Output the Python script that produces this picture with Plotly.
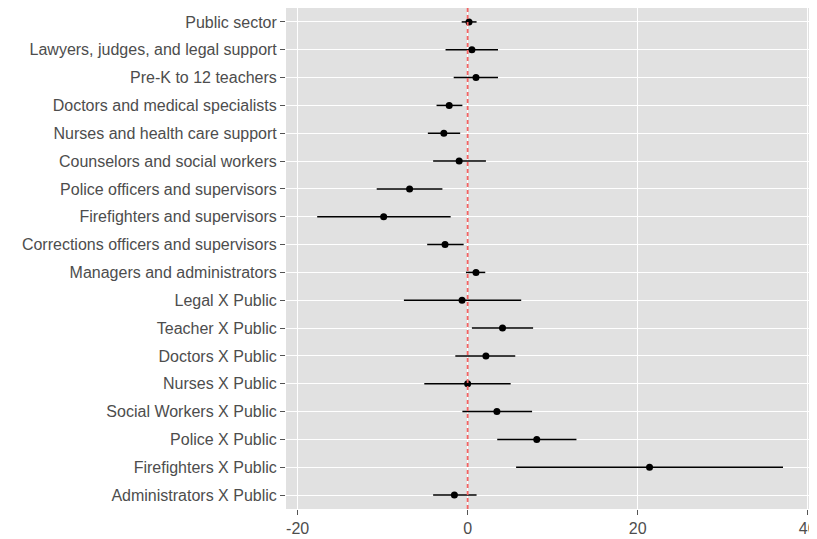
import plotly.graph_objects as go

categories = [
    "Public sector",
    "Lawyers, judges, and legal support",
    "Pre-K to 12 teachers",
    "Doctors and medical specialists",
    "Nurses and health care support",
    "Counselors and social workers",
    "Police officers and supervisors",
    "Firefighters and supervisors",
    "Corrections officers and supervisors",
    "Managers and administrators",
    "Legal X Public",
    "Teacher X Public",
    "Doctors X Public",
    "Nurses X Public",
    "Social Workers X Public",
    "Police X Public",
    "Firefighters X Public",
    "Administrators X Public",
]
estimate = [0.16, 0.5, 0.98, -2.17, -2.8, -1.0, -6.83, -9.88, -2.66, 0.98,
            -0.66, 4.1, 2.15, 0.0, 3.44, 8.13, 21.4, -1.56]
ci_low = [-0.7, -2.6, -1.64, -3.66, -4.68, -4.06, -10.7, -17.7, -4.76, -0.2,
          -7.5, 0.5, -1.45, -5.1, -0.62, 3.48, 5.7, -4.06]
ci_high = [1.05, 3.57, 3.57, -0.62, -0.88, 2.15, -2.97, -2.0, -0.47, 2.07,
           6.3, 7.7, 5.6, 5.06, 7.58, 12.8, 37.1, 1.05]
x_ticks = [-20, 0, 20, 40]
x_tick_labels = ["-20", "0", "20", "40"]

plus = [h - e for h, e in zip(ci_high, estimate)]
minus = [e - l for e, l in zip(estimate, ci_low)]

fig = go.Figure()
fig.add_trace(go.Scatter(
    x=estimate, y=categories, mode="markers",
    marker=dict(color="black", size=7),
    error_x=dict(type="data", symmetric=False, array=plus, arrayminus=minus,
                 color="black", thickness=1.5, width=0),
    showlegend=False,
))
fig.add_shape(type="line", x0=0, x1=0, xref="x", y0=0, y1=1, yref="paper",
              line=dict(color="#F46262", width=1.8, dash="4px,3px"), layer="above")

fig.update_layout(
    width=809, height=531,
    margin=dict(l=278, r=0, t=0, b=30),
    paper_bgcolor="white", plot_bgcolor="#E1E1E1",
    font=dict(family="Liberation Sans, Arial, sans-serif", size=16, color="#4D4D4D"),
    xaxis=dict(range=[-21.37, 41.1], tickvals=x_ticks, ticktext=x_tick_labels,
               showgrid=True, gridcolor="white", gridwidth=1.3, zeroline=False,
               ticks="outside", ticklen=5, tickcolor="#555555", tickwidth=1,
               tickfont=dict(size=16, color="#4D4D4D")),
    yaxis=dict(type="category", categoryorder="array", categoryarray=categories,
               range=[17.5, -0.5], showgrid=True, gridcolor="white", gridwidth=1.3,
               zeroline=False, ticks="outside", ticklen=5, tickcolor="#555555",
               tickwidth=1, tickfont=dict(size=16, color="#4D4D4D")),
)
fig.write_html("out.html")
